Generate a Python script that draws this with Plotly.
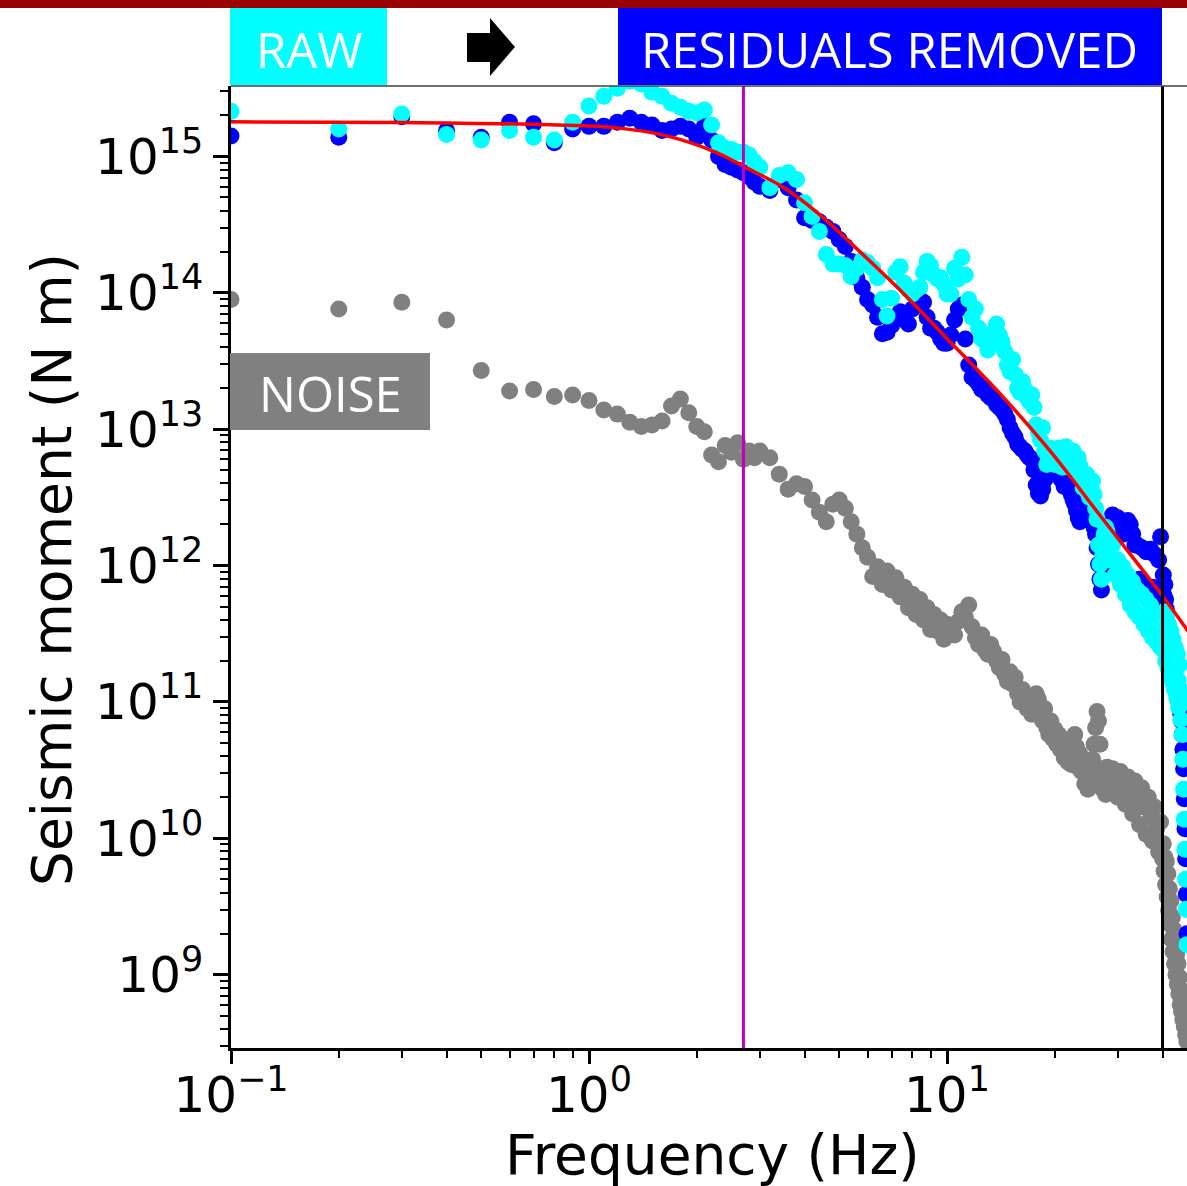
import plotly.graph_objects as go

# ---------------- data (frequency in Hz, moments as log10(N m)) ----------------
FREQ_A = [0.1, 0.2, 0.3, 0.4, 0.5, 0.6, 0.7, 0.8, 0.9, 1.0,
          1.1, 1.2, 1.3, 1.4, 1.5, 1.6, 1.7, 1.8, 1.9, 2.0,
          2.1, 2.2, 2.3, 2.4, 2.5, 2.6, 2.7, 2.8, 2.9, 3.0]
FREQ_B = [3.2, 3.4, 3.6, 3.8, 4.0, 4.2, 4.4, 4.6, 4.8, 5.0,
          5.2, 5.4, 5.6, 5.8, 6.0, 6.2, 6.4, 6.6, 6.8, 7.0,
          7.2, 7.4, 7.6, 7.8, 8.0, 8.2, 8.4, 8.6, 8.8, 9.0,
          9.2, 9.4, 9.6, 9.8, 10.0]
FREQ_C1 = [10.25, 10.5, 10.75, 11.0, 11.25, 11.5, 11.75, 12.0,
           12.25, 12.5, 12.75, 13.0, 13.25, 13.5, 13.75, 14.0,
           14.25, 14.5, 14.75, 15.0, 15.25, 15.5, 15.75, 16.0,
           16.25, 16.5, 16.75, 17.0, 17.25, 17.5, 17.75, 18.0,
           18.25, 18.5, 18.75, 19.0, 19.25, 19.5, 19.75, 20.0,
           20.25, 20.5, 20.75, 21.0, 21.25, 21.5, 21.75, 22.0,
           22.25, 22.5, 22.75, 23.0, 23.25, 23.5, 23.75, 24.0,
           24.25, 24.5, 24.75, 25.0, 25.25, 25.5, 25.75, 26.0,
           26.25, 26.5, 26.75, 27.0, 27.25, 27.5, 27.75, 28.0]
FREQ_C2 = [28.5, 29.0, 29.5, 30.0, 30.5, 31.0, 31.5, 32.0,
           32.5, 33.0, 33.5, 34.0, 34.5, 35.0, 35.5, 36.0,
           36.5, 37.0, 37.5, 38.0, 38.5, 39.0, 39.5, 40.0]
FREQ_D = [40.2, 40.4, 40.6, 40.8, 41.0, 41.2, 41.4, 41.6, 41.8, 42.0,
          42.2, 42.4, 42.6, 42.8, 43.0, 43.2, 43.4, 43.6, 43.8, 44.0,
          44.2, 44.4, 44.6, 44.8, 45.0, 45.2, 45.4, 45.6, 45.8, 46.0,
          46.2, 46.4, 46.6, 46.8]

# RAW spectrum (cyan)
RAW_A = [15.33, 15.20, 15.31, 15.16, 15.12, 15.19, 15.14, 15.12, 15.25, 15.37,
         15.44, 15.50, 15.55, 15.53, 15.47, 15.44, 15.39, 15.36, 15.33, 15.32,
         15.34, 15.23, 15.10, 15.06, 15.05, 15.03, 15.03, 15.01, 14.96, 14.92]
RAW_B = [14.77, 14.86, 14.88, 14.83, 14.66, 14.56, 14.45, 14.28, 14.21, 14.21,
         14.20, 14.12, 14.18, 14.24, 14.22, 14.18, 14.11, 13.95, 13.83, 13.96,
         14.15, 14.19, 14.07, 14.02, 13.99, 14.02, 14.04, 14.15, 14.23, 14.20,
         14.13, 14.10, 14.11, 14.06, 13.99]
RAW_C1 = [13.99, 14.18, 14.10, 14.26, 14.13, 13.95, 13.82, 13.88,
          13.74, 13.66, 13.69, 13.58, 13.62, 13.71, 13.77, 13.69,
          13.64, 13.57, 13.47, 13.42, 13.51, 13.40, 13.30, 13.27,
          13.35, 13.29, 13.23, 13.20, 13.25, 13.16, 13.03, 12.98,
          12.92, 13.01, 12.84, 12.74, 12.81, 12.86, 12.78, 12.74,
          12.84, 12.86, 12.76, 12.72, 12.81, 12.87, 12.79, 12.72,
          12.78, 12.84, 12.74, 12.70, 12.79, 12.73, 12.64, 12.57,
          12.63, 12.67, 12.56, 12.50, 12.57, 12.62, 12.52, 12.42,
          12.34, 12.15, 12.01, 11.90, 12.08, 12.23, 12.28, 12.25]
RAW_C2 = [12.04, 12.15, 11.93, 12.04, 11.86, 11.99, 11.79, 11.93,
          11.71, 11.88, 11.66, 11.82, 11.62, 11.79, 11.57, 11.75,
          11.52, 11.71, 11.47, 11.66, 11.44, 11.62, 11.40, 11.57]
RAW_D = [11.38, 11.66, 11.52, 11.30, 11.62, 11.46, 11.25, 11.57, 11.40, 11.20,
         11.52, 11.35, 11.15, 11.46, 11.30, 11.09, 11.40, 11.24, 11.03, 11.35,
         11.16, 10.96, 11.27, 11.09, 10.87, 11.02, 10.76, 10.58, 10.36, 10.14,
         9.92, 9.70, 9.48, 9.22]

# RESIDUALS REMOVED spectrum (blue)
RES_A = [15.15, 15.14, 15.29, 15.19, 15.14, 15.25, 15.24, 15.10, 15.20, 15.22,
         15.22, 15.25, 15.28, 15.25, 15.23, 15.19, 15.20, 15.22, 15.20, 15.14,
         15.22, 15.12, 15.00, 14.94, 14.92, 14.90, 14.88, 14.85, 14.81, 14.78]
RES_B = [14.75, 14.83, 14.77, 14.68, 14.55, 14.53, 14.52, 14.48, 14.45, 14.39,
         14.34, 14.23, 14.11, 14.04, 13.95, 13.91, 13.82, 13.70, 13.71, 13.76,
         13.82, 13.86, 13.80, 13.77, 13.88, 13.91, 13.95, 13.93, 13.82, 13.74,
         13.74, 13.71, 13.66, 13.63, 13.63]
RES_C1 = [13.69, 13.80, 13.88, 13.91, 13.66, 13.47, 13.38, 13.36,
          13.33, 13.29, 13.30, 13.25, 13.23, 13.22, 13.18, 13.16,
          13.14, 13.11, 13.07, 13.01, 12.97, 12.94, 12.89, 12.87,
          12.85, 12.84, 12.81, 12.79, 12.78, 12.70, 12.59, 12.53,
          12.51, 12.56, 12.63, 12.67, 12.70, 12.72, 12.69, 12.72,
          12.70, 12.67, 12.64, 12.62, 12.58, 12.58, 12.59, 12.56,
          12.52, 12.48, 12.45, 12.40, 12.35, 12.32, 12.35, 12.40,
          12.42, 12.45, 12.41, 12.37, 12.35, 12.32, 12.28, 12.23,
          12.13, 12.01, 11.90, 11.82, 11.97, 12.15, 12.23, 12.26]
RES_C2 = [12.32, 12.37, 12.30, 12.35, 12.26, 12.23, 12.28, 12.33,
          12.30, 12.23, 12.15, 12.15, 11.90, 12.13, 11.86, 12.10,
          11.82, 12.12, 11.84, 12.08, 11.81, 12.04, 12.21, 11.79]
RES_D = [11.93, 11.78, 11.86, 11.75, 11.68, 11.46, 11.39, 11.35, 11.31, 11.28,
         11.25, 11.24, 11.20, 11.18, 11.17, 11.14, 11.12, 11.09, 11.07, 11.05,
         11.02, 11.00, 10.98, 10.95, 10.91, 10.86, 10.76, 10.65, 10.51, 10.29,
         10.07, 9.85, 9.59, 9.30]

# NOISE spectrum (grey)
NOISE_A = [13.95, 13.88, 13.93, 13.80, 13.43, 13.28, 13.29, 13.24, 13.25, 13.21,
           13.14, 13.11, 13.05, 13.02, 13.03, 13.06, 13.17, 13.22, 13.12, 13.02,
           12.98, 12.81, 12.76, 12.88, 12.83, 12.90, 12.78, 12.84, 12.79, 12.84]
NOISE_B = [12.79, 12.67, 12.56, 12.60, 12.58, 12.48, 12.39, 12.32, 12.45, 12.48,
           12.42, 12.32, 12.23, 12.13, 12.06, 11.92, 11.99, 11.86, 11.96, 11.82,
           11.91, 11.77, 11.84, 11.69, 11.79, 11.64, 11.75, 11.60, 11.69, 11.53,
           11.64, 11.52, 11.60, 11.46, 11.57]
NOISE_C1 = [11.55, 11.49, 11.59, 11.66, 11.62, 11.71, 11.55, 11.47,
            11.42, 11.49, 11.38, 11.35, 11.42, 11.37, 11.30, 11.25,
            11.31, 11.20, 11.15, 11.22, 11.13, 11.18, 11.06, 11.00,
            11.09, 11.03, 10.95, 11.00, 10.91, 10.96, 11.06, 11.02,
            10.89, 10.86, 10.95, 10.81, 10.76, 10.86, 10.73, 10.80,
            10.69, 10.76, 10.65, 10.73, 10.59, 10.69, 10.56, 10.67,
            10.54, 10.64, 10.76, 10.67, 10.52, 10.62, 10.49, 10.58,
            10.40, 10.54, 10.36, 10.49, 10.43, 10.58, 10.69, 10.81,
            10.93, 10.86, 10.69, 10.51, 10.36, 10.43, 10.32, 10.52]
NOISE_C2 = [10.36, 10.51, 10.42, 10.30, 10.49, 10.37, 10.25, 10.45,
            10.32, 10.18, 10.42, 10.29, 10.10, 10.37, 10.23, 10.03,
            10.30, 10.15, 9.98, 10.23, 10.07, 9.90, 10.12, 9.85]
NOISE_D = [9.96, 9.76, 9.86, 9.66, 9.83, 9.57, 9.74, 9.47, 9.63, 9.37,
           9.54, 9.26, 9.42, 9.17, 9.33, 9.08, 9.22, 9.00, 9.15, 8.93,
           9.08, 8.86, 8.98, 8.78, 8.89, 8.73, 8.82, 8.67, 8.76, 8.62,
           8.69, 8.56, 8.64, 8.51]

# fitted source model (red)
FIT_F = [0.1, 0.3, 0.78, 1.2, 1.65, 2.28, 2.71, 3.48, 4.33, 5.61,
         7.39, 10.2, 14.06, 19.4, 26.7, 39.4, 46.8, 48.0]
FIT_LOG = [15.253, 15.249, 15.231, 15.209, 15.150, 15.026, 14.925, 14.775, 14.59, 14.32,
           14.02, 13.64, 13.26, 12.84, 12.37, 11.80, 11.53, 11.49]

CORNER_LINE_F = 2.7     # magenta vertical line
MAX_FREQ_LINE_F = 40.0  # black vertical line

X_TICKS = [0.1, 1, 10]
X_TICK_TEXT = ["10<sup>\u22121</sup>", "10<sup>0</sup>", "10<sup>1</sup>"]
Y_TICKS = [1e9, 1e10, 1e11, 1e12, 1e13, 1e14, 1e15]
Y_TICK_TEXT = ["10<sup>9</sup>", "10<sup>10</sup>", "10<sup>11</sup>", "10<sup>12</sup>",
               "10<sup>13</sup>", "10<sup>14</sup>", "10<sup>15</sup>"]

# ---------------- assemble ----------------
FREQ = FREQ_A + FREQ_B + FREQ_C1 + FREQ_C2 + FREQ_D
RAW_LOG = RAW_A + RAW_B + RAW_C1 + RAW_C2 + RAW_D
RES_LOG = RES_A + RES_B + RES_C1 + RES_C2 + RES_D
NOISE_LOG = NOISE_A + NOISE_B + NOISE_C1 + NOISE_C2 + NOISE_D
for nm, arr in [("RAW", RAW_LOG), ("RES", RES_LOG), ("NOISE", NOISE_LOG)]:
    if len(arr) != len(FREQ):
        raise ValueError(f"{nm} length {len(arr)} != {len(FREQ)}")

raw = [10 ** v for v in RAW_LOG]
res = [10 ** v for v in RES_LOG]
noise = [10 ** v for v in NOISE_LOG]
fit = [10 ** v for v in FIT_LOG]

W, H = 1187, 1186
L, R, T, B = 231, 0, 86, 138
PW, PH = W - L - R, H - T - B


def X(px):
    return (px - L) / PW


def Y(py):
    return (H - B - py) / PH


MS = 17
fig = go.Figure()
fig.add_trace(go.Scatter(x=FREQ, y=noise, mode="markers", name="noise",
                         marker=dict(color="#808080", size=MS, line=dict(width=0))))
fig.add_trace(go.Scatter(x=FREQ, y=res, mode="markers", name="residuals removed",
                         marker=dict(color="#0000FF", size=MS, line=dict(width=0))))
fig.add_trace(go.Scatter(x=FREQ, y=raw, mode="markers", name="raw",
                         marker=dict(color="#00FFFF", size=MS, line=dict(width=0))))
fig.add_trace(go.Scatter(x=FIT_F, y=fit, mode="lines", name="fit",
                         line=dict(color="#FF0000", width=3.5, shape="spline", smoothing=1.0)))
fig.add_trace(go.Scatter(x=[CORNER_LINE_F, CORNER_LINE_F], y=[1e8, 1e16], mode="lines",
                         line=dict(color="#BF00BF", width=3)))
fig.add_trace(go.Scatter(x=[MAX_FREQ_LINE_F, MAX_FREQ_LINE_F], y=[1e8, 1e16], mode="lines",
                         line=dict(color="black", width=3)))

tickfont = dict(family="DejaVu Sans", size=50, color="black")
x_minor = [m * 10 ** e for e in (-1, 0, 1) for m in range(2, 10) if m * 10 ** e < 47]
y_minor = [m * 10 ** e for e in range(8, 16) for m in range(2, 10) if 2.9e8 < m * 10 ** e < 3.3e15]

fig.update_xaxes(type="log", range=[-1, 1.6704], showline=True, linecolor="black", linewidth=2.5,
                 mirror=False, ticks="outside", ticklen=13, tickwidth=2.5, tickcolor="black",
                 tickmode="array", tickvals=X_TICKS, ticktext=X_TICK_TEXT, tickfont=tickfont,
                 ticklabelstandoff=-12,
                 showgrid=False, zeroline=False, automargin=False,
                 minor=dict(tickmode="array", tickvals=x_minor, ticks="outside", ticklen=7,
                            tickwidth=2, tickcolor="black", showgrid=False))
fig.update_yaxes(type="log", range=[8.462, 15.516], showline=True, linecolor="black", linewidth=2.5,
                 mirror=False, ticks="outside", ticklen=15, tickwidth=2.5, tickcolor="black",
                 tickmode="array", tickvals=Y_TICKS, ticktext=Y_TICK_TEXT, tickfont=tickfont,
                 showgrid=False, zeroline=False, automargin=False,
                 minor=dict(tickmode="array", tickvals=y_minor, ticks="outside", ticklen=8,
                            tickwidth=2, tickcolor="black", showgrid=False))

shapes = [
    dict(type="line", xref="paper", yref="paper", x0=X(231), x1=X(1187), y0=Y(86), y1=Y(86),
         line=dict(color="#404040", width=1.5)),
    dict(type="rect", xref="paper", yref="paper", x0=X(0), x1=X(1187), y0=Y(8), y1=Y(0),
         fillcolor="#990000", line=dict(width=0)),
    dict(type="rect", xref="paper", yref="paper", x0=X(230), x1=X(387), y0=Y(85), y1=Y(8),
         fillcolor="#00FFFF", line=dict(width=0)),
    dict(type="rect", xref="paper", yref="paper", x0=X(618), x1=X(1162), y0=Y(85), y1=Y(8),
         fillcolor="#0000FF", line=dict(width=0)),
    dict(type="rect", xref="paper", yref="paper", x0=X(230), x1=X(430), y0=Y(430), y1=Y(353),
         fillcolor="#808080", line=dict(width=0)),
]
arrow_pts = [(467, 33), (490, 33), (490, 18), (515, 47), (490, 76), (490, 62), (467, 62)]
path = "M " + " L ".join(f"{X(a):.5f},{Y(b):.5f}" for a, b in arrow_pts) + " Z"
shapes.append(dict(type="path", xref="paper", yref="paper", path=path,
                   fillcolor="black", line=dict(width=0)))

label_font = dict(family="Open Sans", size=49, color="white")
annotations = [
    dict(text="RAW", x=X(309), y=Y(49), xref="paper", yref="paper", showarrow=False,
         xanchor="center", yanchor="middle", font=label_font),
    dict(text="RESIDUALS REMOVED", x=X(889), y=Y(49), xref="paper", yref="paper", showarrow=False,
         xanchor="center", yanchor="middle", font=label_font),
    dict(text="NOISE", x=X(330), y=Y(393), xref="paper", yref="paper", showarrow=False,
         xanchor="center", yanchor="middle", font=label_font),
    dict(text="Seismic moment (N m)", x=X(52), y=Y(570), xref="paper", yref="paper",
         showarrow=False, textangle=-90, xanchor="center", yanchor="middle",
         font=dict(family="DejaVu Sans", size=55, color="black")),
    dict(text="Frequency (Hz)", x=X(712), y=Y(1155), xref="paper", yref="paper",
         showarrow=False, xanchor="center", yanchor="middle",
         font=dict(family="DejaVu Sans", size=55, color="black")),
]

fig.update_layout(width=W, height=H, margin=dict(l=L, r=R, t=T, b=B, pad=0),
                  paper_bgcolor="white", plot_bgcolor="white", showlegend=False,
                  shapes=shapes, annotations=annotations)

fig.write_html("out.html", config={"displayModeBar": False})
